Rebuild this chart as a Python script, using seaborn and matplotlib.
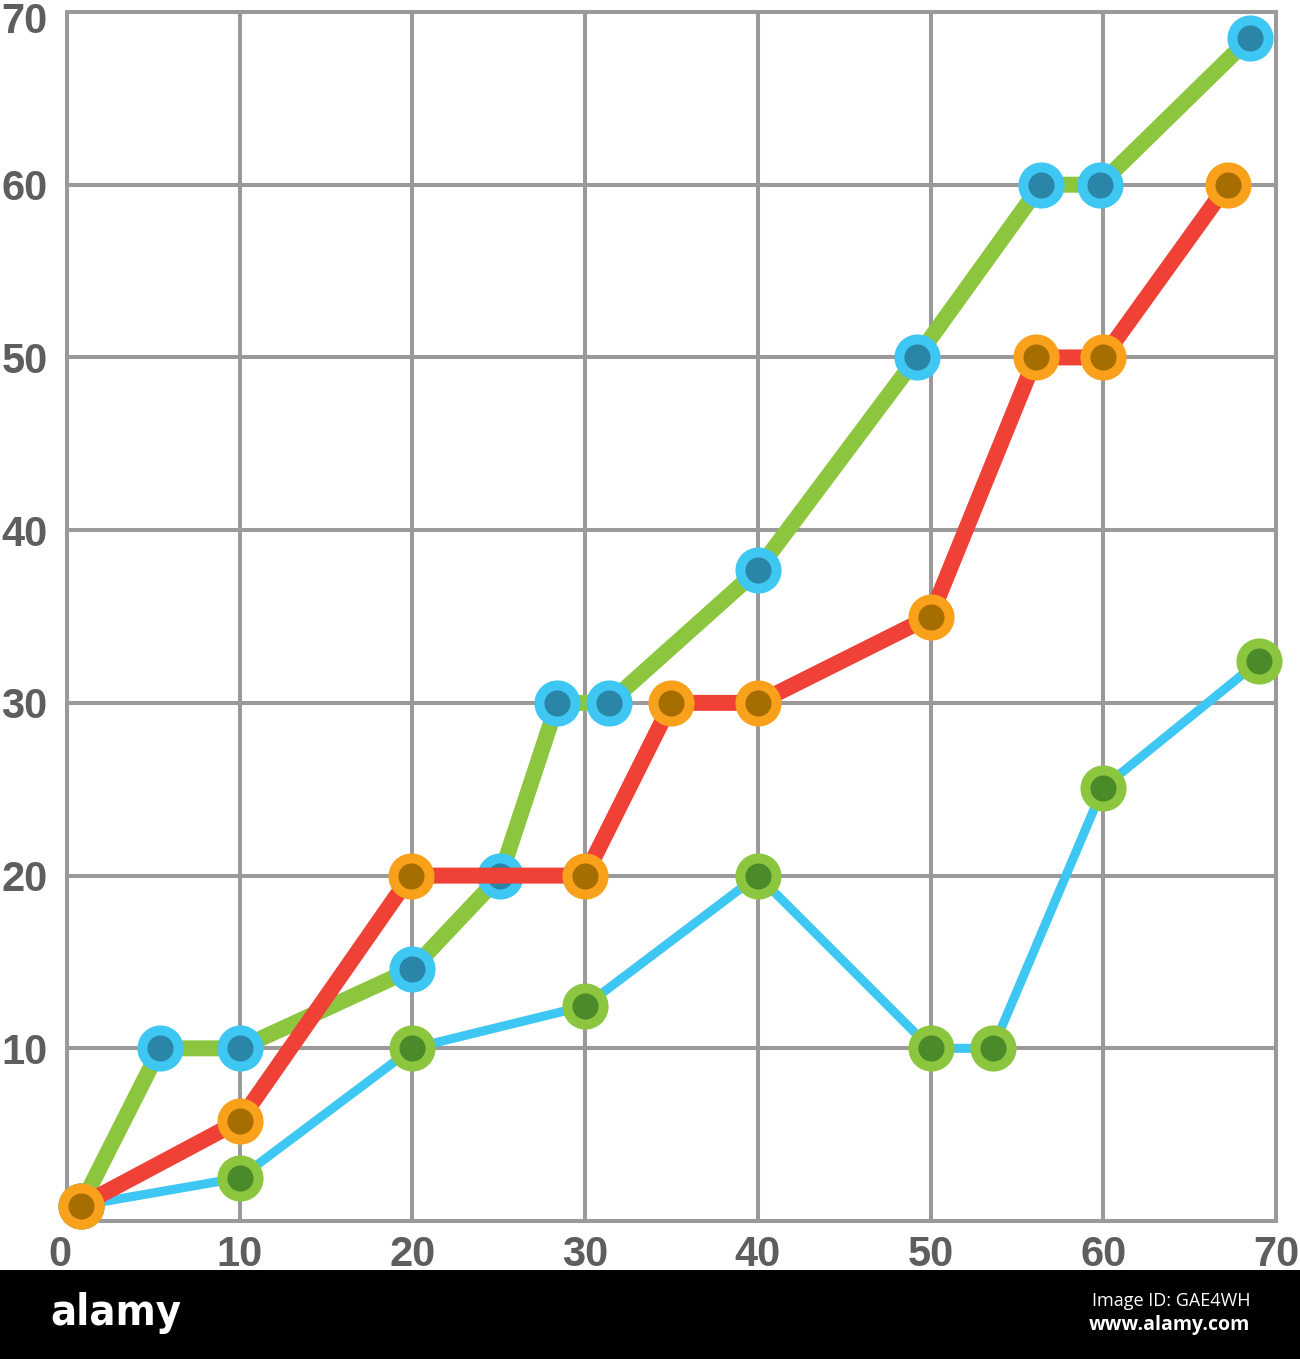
import pandas as pd
import matplotlib.pyplot as plt
import seaborn as sns
from matplotlib.patches import Rectangle
from matplotlib.transforms import ScaledTranslation

sns.set_style("white")
plt.rcParams['font.family'] = ['Liberation Sans', 'DejaVu Sans']

# series: green line / blue markers
green_x = [0.8, 5.4, 10, 20, 25.1, 28.4, 31.4, 40, 49.2, 56.4, 59.8, 68.5]
green_y = [0.9, 10, 10, 14.6, 20, 30, 30, 37.7, 50, 60, 60, 68.5]

# series: red line / orange markers
red_x = [0.8, 10, 19.9, 30, 35, 40, 50, 56.1, 60, 67.2]
red_y = [0.9, 5.8, 20, 20, 30, 30, 35, 50, 50, 60]

# series: blue line / green markers
blue_x = [0.8, 10, 20, 30, 40, 50, 53.6, 60, 69]
blue_y = [0.9, 2.5, 10, 12.45, 20, 10, 10, 25.1, 32.4]

x_ticks = [0, 10, 20, 30, 40, 50, 60, 70]
y_ticks = [10, 20, 30, 40, 50, 60, 70]

grid_col = '#9a9a9a'
label_col = '#5e5e5e'

fig = plt.figure(figsize=(13, 13.59), dpi=100)
ax = fig.add_axes([0.0515, 0.1015, 0.93, 0.8897])

ax.set_xlim(0, 70)
ax.set_ylim(0, 70)
ax.set_xticks(x_ticks)
ax.set_yticks(y_ticks)
ax.grid(True, color=grid_col, linewidth=2.9, zorder=0)
ax.set_axisbelow(True)
for s in ax.spines.values():
    s.set_color(grid_col)
    s.set_linewidth(2.9)

series = [
    (green_x, green_y, '#8cc63f', 11.5, '#3ec7f2', '#2a85a6'),
    (blue_x, blue_y, '#3ec7f2', 6.5, '#8cc63f', '#4b8a29'),
    (red_x, red_y, '#ef4136', 11.5, '#f9a11b', '#a66d00'),
]
for i, (xs, ys, lc, lw, edge, face) in enumerate(series):
    df = pd.DataFrame({'x': xs, 'y': ys})
    sns.lineplot(data=df, x='x', y='y', sort=False, estimator=None, ax=ax,
                 color=lc, linewidth=lw, marker='o', markersize=26,
                 markerfacecolor=face, markeredgecolor=edge,
                 markeredgewidth=7.2, clip_on=False, zorder=3 + i)

ax.set_xlabel('')
ax.set_ylabel('')
ax.tick_params(axis='both', length=0, labelsize=30, labelcolor=label_col)
ax.tick_params(axis='x', pad=10)
ax.tick_params(axis='y', pad=14)
for t in ax.get_xticklabels() + ax.get_yticklabels():
    t.set_fontweight('bold')

# top "70" sits a little lower, bottom "0" a little left
top_lab = ax.get_yticklabels()[-1]
top_lab.set_transform(top_lab.get_transform() + ScaledTranslation(0, -0.06, fig.dpi_scale_trans))
zero_lab = ax.get_xticklabels()[0]
zero_lab.set_transform(zero_lab.get_transform() + ScaledTranslation(-0.07, 0, fig.dpi_scale_trans))

# watermark banner
fig.patches.append(Rectangle((0, 0), 1, 89 / 1359, transform=fig.transFigure,
                             facecolor='black', edgecolor='none', zorder=10))
fig.text(50 / 1300, (1359 - 1313) / 1359, 'alamy', color='white',
         fontsize=31, fontweight='bold', fontstretch='condensed', va='center', ha='left',
         family=['DejaVu Sans'], zorder=11)
fig.text(1250 / 1300, (1359 - 1301) / 1359, 'Image ID: GAE4WH', color='white',
         fontsize=13, ha='right', va='center', family=['Open Sans', 'DejaVu Sans'],
         zorder=11)
fig.text(1250 / 1300, (1359 - 1325) / 1359, 'www.alamy.com', color='white',
         fontsize=14, fontweight='bold', ha='right', va='center',
         family=['Open Sans', 'DejaVu Sans'], zorder=11)

fig.savefig('out.png', dpi=100)
